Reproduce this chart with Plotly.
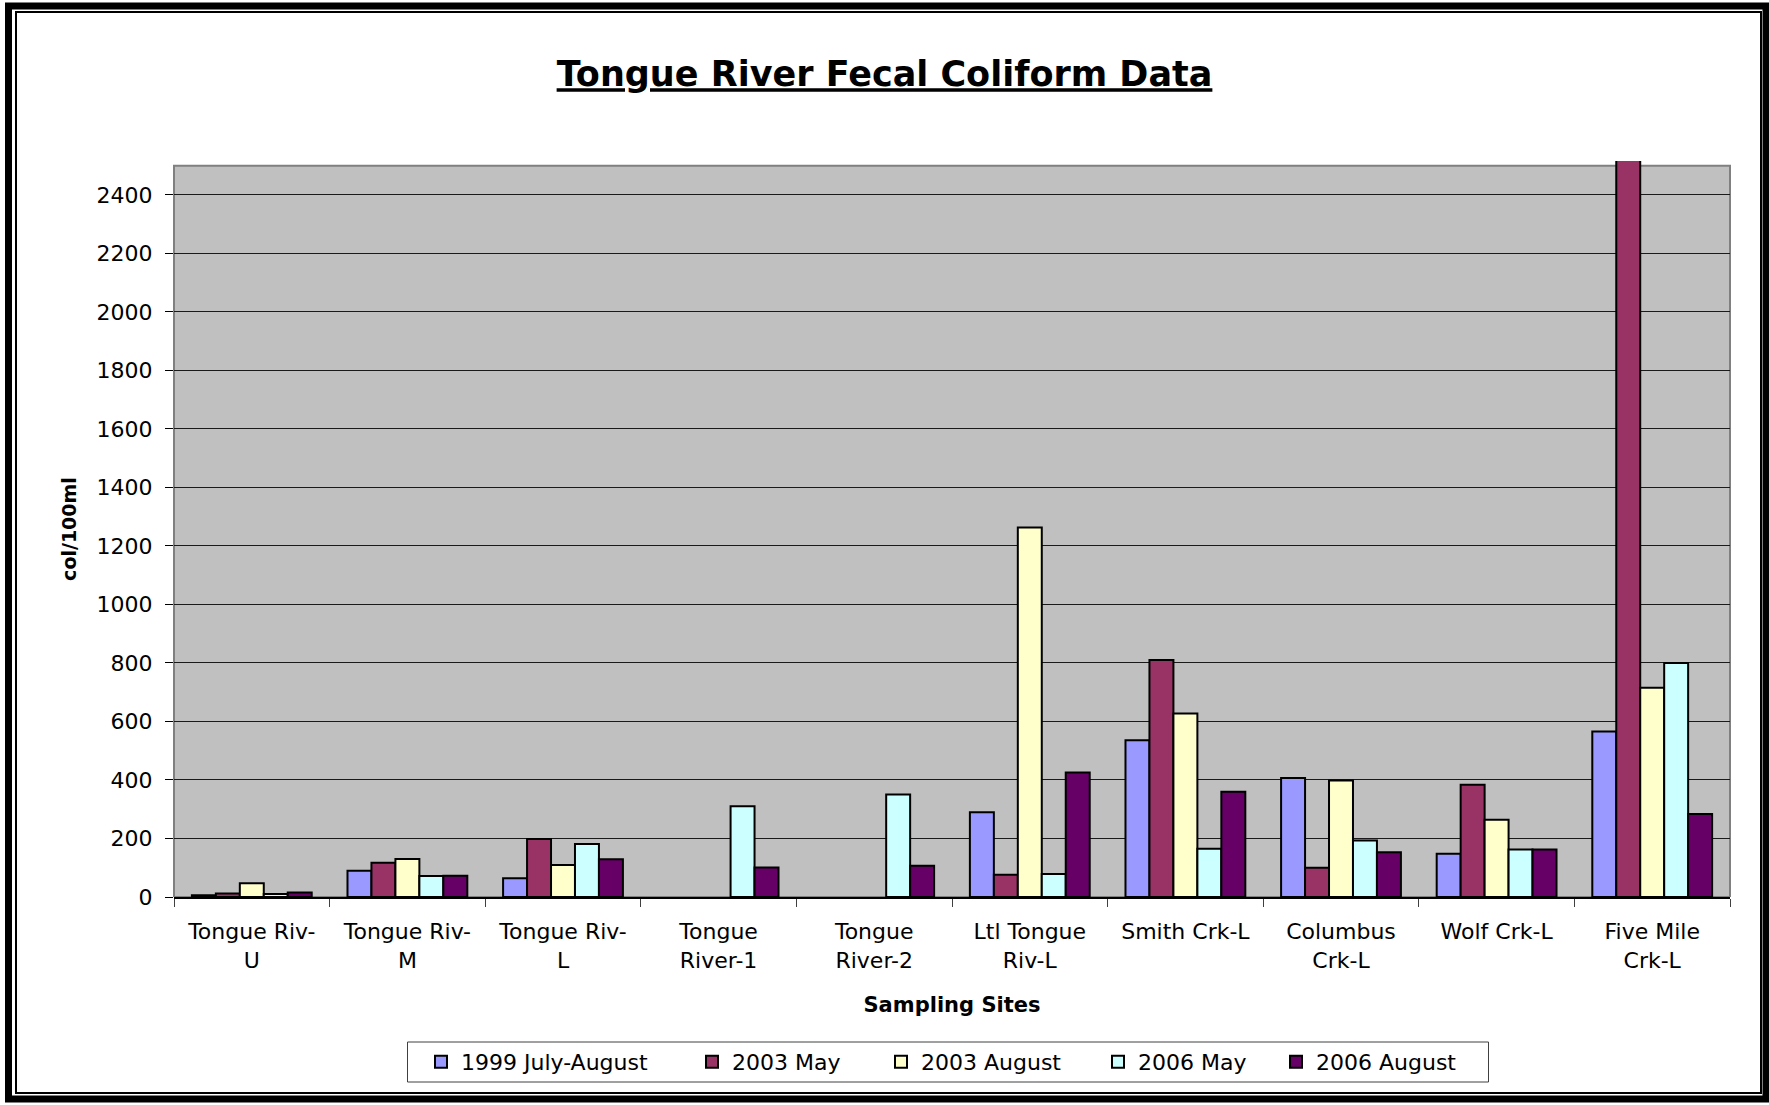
import plotly.graph_objects as go

# ---------------- data ----------------
sites = ["Tongue Riv-U", "Tongue Riv-M", "Tongue Riv-L", "Tongue River-1",
         "Tongue River-2", "Ltl Tongue Riv-L", "Smith Crk-L", "Columbus Crk-L",
         "Wolf Crk-L", "Five Mile Crk-L"]
site_labels = ["Tongue Riv-<br>U", "Tongue Riv-<br>M", "Tongue Riv-<br>L",
               "Tongue<br>River-1", "Tongue<br>River-2", "Ltl Tongue<br>Riv-L",
               "Smith Crk-L", "Columbus<br>Crk-L", "Wolf Crk-L", "Five Mile<br>Crk-L"]
series_names = ["1999 July-August", "2003 May", "2003 August", "2006 May", "2006 August"]
jul_aug_1999 = [6, 90, 64, None, None, 290, 536, 407, 148, 566]
may_2003 = [12, 117, 198, None, None, 76, 810, 100, 384, 2520]
aug_2003 = [47, 130, 109, None, None, 1263, 627, 398, 264, 715]
may_2006 = [10, 72, 181, 310, 350, 79, 165, 193, 162, 800]
aug_2006 = [15, 73, 129, 101, 107, 426, 360, 153, 162, 284]
series_values = [jul_aug_1999, may_2003, aug_2003, may_2006, aug_2006]
y_ticks = list(range(0, 2401, 200))
y_axis_max = 2500

# ---------------- styling ----------------
colors = ["#9999FF", "#993366", "#FFFFCC", "#CCFFFF", "#660066"]
FONT = "DejaVu Sans"
W, H = 1769, 1105
L, R, T, B = 174, 39, 161, 208
PW, PH = W - L - R, H - T - B


def px(x):
    return (x - L) / PW


def py(y):
    return (H - B - y) / PH


# pixel x of each legend entry's symbol centre (one legend per series)
legend_centres = [441, 712, 901, 1118, 1296]
legend_ids = ["legend", "legend2", "legend3", "legend4", "legend5"]

fig = go.Figure()
for name, vals, col, lid in zip(series_names, series_values, colors, legend_ids):
    fig.add_trace(go.Bar(
        x=sites, y=vals, name=name, legend=lid,
        marker=dict(color=col, line=dict(color="black", width=2)),
    ))

# plot area (gray) up to the axis maximum
fig.add_shape(type="rect", xref="x domain", yref="y", x0=0, x1=1, y0=0, y1=y_axis_max,
              fillcolor="#C0C0C0", line=dict(color="#808080", width=2), layer="below")
# legend box
fig.add_shape(type="rect", xref="paper", yref="paper", x0=px(407.5), x1=px(1488.5),
              y0=py(1042), y1=py(1082), line=dict(color="#404040", width=1), layer="above")
# outer double frame
fig.add_shape(type="rect", xref="paper", yref="paper", x0=px(8.5), x1=px(1766),
              y0=py(6), y1=py(1099), line=dict(color="black", width=7), layer="above")
fig.add_shape(type="rect", xref="paper", yref="paper", x0=px(16), x1=px(1761),
              y0=py(12), y1=py(1093), line=dict(color="black", width=2), layer="above")

legend_layouts = {}
for lid, cx in zip(legend_ids, legend_centres):
    legend_layouts[lid] = dict(
        orientation="h", x=px(cx - 20), y=py(1062), xanchor="left", yanchor="middle",
        bgcolor="rgba(0,0,0,0)", borderwidth=0,
        font=dict(family=FONT, size=22, color="black"))

fig.update_layout(
    width=W, height=H,
    margin=dict(l=L, r=R, t=T, b=B),
    paper_bgcolor="white", plot_bgcolor="white",
    font=dict(family=FONT, size=22, color="black"),
    barmode="group", bargap=0.23, bargroupgap=0,
    title=dict(text="<u>Tongue River Fecal Coliform Data</u>",
               font=dict(family=FONT, size=35, color="black", weight="bold"),
               x=0.5, xref="container", xanchor="center",
               y=1 - 74 / H, yref="container", yanchor="middle"),
    showlegend=True,
    xaxis=dict(
        type="category", tickvals=sites, ticktext=site_labels,
        tickson="boundaries", ticks="outside", ticklen=8, tickcolor="#404040",
        showline=True, linecolor="black", linewidth=1.5,
        showgrid=False, ticklabelstandoff=14,
        title=dict(text="<b>Sampling Sites</b>", font=dict(family=FONT, size=21), standoff=26),
    ),
    yaxis=dict(
        range=[0, (H - B - T) / PH * (y_axis_max / ((H - B - 165.7) / PH))],
        tickvals=y_ticks, ticks="outside", ticklen=8, tickcolor="black",
        showline=False, zeroline=False,
        showgrid=True, gridcolor="#1a1a1a", gridwidth=1,
        ticklabelstandoff=8,
        title=dict(text="<b>col/100ml</b>", font=dict(family=FONT, size=19), standoff=14),
    ),
    **legend_layouts,
)

fig.write_html("out.html")
